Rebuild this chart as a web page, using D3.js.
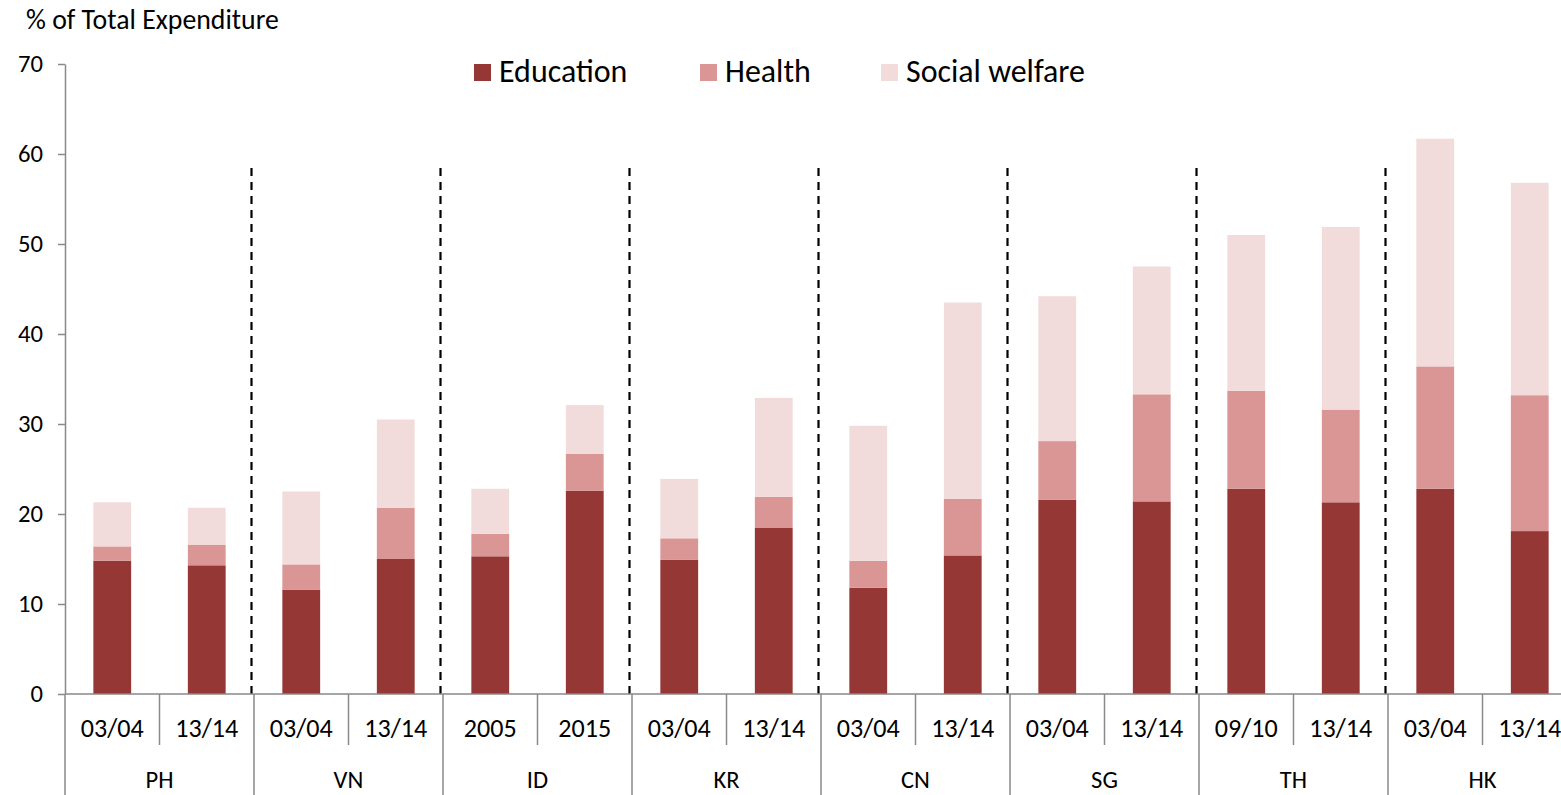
<!DOCTYPE html>
<html>
<head>
<meta charset="utf-8">
<script src="https://cdn.jsdelivr.net/npm/d3@7"></script>
<style>
  html, body { margin: 0; padding: 0; background: #fff; }
  svg { display: block; }
  text { font-family: Carlito, Calibri, "Open Sans", sans-serif; fill: #000; }
</style>
</head>
<body>
<svg id="chart" width="1561" height="795"></svg>
<script>
// ---- data ----
const countries = ["PH", "VN", "ID", "KR", "CN", "SG", "TH", "HK"];
const periodLabels = ["03/04", "13/14", "03/04", "13/14", "2005", "2015", "03/04", "13/14",
                      "03/04", "13/14", "03/04", "13/14", "09/10", "13/14", "03/04", "13/14"];
const education     = [14.8, 14.3, 11.6, 15.0, 15.3, 22.6, 14.9, 18.5, 11.8, 15.4, 21.6, 21.4, 22.8, 21.3, 22.8, 18.1];
const health        = [1.6,  2.3,  2.8,  5.7,  2.5,  4.1,  2.4,  3.4,  3.0,  6.3,  6.5, 11.9, 10.9, 10.3, 13.6, 15.1];
const socialWelfare = [4.9,  4.1,  8.1,  9.8,  5.0,  5.4,  6.6, 11.0, 15.0, 21.8, 16.1, 14.2, 17.3, 20.3, 25.3, 23.6];
const seriesNames = ["Education", "Health", "Social welfare"];
const yTicks = [0, 10, 20, 30, 40, 50, 60, 70];
const yTitle = "% of Total Expenditure";
const separatorTop = 58.8;

(function () {
// ---- style ----
const colors = ["#953735", "#D99694", "#F2DCDB"];
const axisColor = "#898989";
const FONT = 'Carlito, Calibri, "Open Sans", sans-serif';

const svg = d3.select("#chart");
const mLeft = 65, mRight = 1577, mTop = 64, mBottom = 694;
const nBars = periodLabels.length;

// scale a text selection's font size so a sample string reaches a target width
function fitSize(sample, targetW, base) {
  const t = svg.append("text").attr("font-size", base).style("font-family", FONT).text(sample);
  const w = t.node().getComputedTextLength();
  t.remove();
  return w > 0 ? base * targetW / w : base;
}
const tickSize = fitSize("70", 25, 20);
const periodSize = fitSize("03/04", 63, 20);
const countrySize = fitSize("PH", 28, 20);
const titleSize = fitSize(yTitle, 253, 20);
const legendSize = fitSize("Social welfare", 179, 20);

const x = d3.scaleBand().domain(d3.range(nBars)).range([mLeft, mRight])
  .paddingInner(0.6).paddingOuter(0.3);
const slot = d3.scaleLinear().domain([0, nBars]).range([mLeft, mRight]);
const y = d3.scaleLinear().domain([0, 70]).range([mBottom, mTop]);

// stack
const rows = d3.range(nBars).map(i => ({ i, Education: education[i], Health: health[i], "Social welfare": socialWelfare[i] }));
const stacked = d3.stack().keys(seriesNames)(rows);

// separators (dashed)
const sepIdx = d3.range(1, countries.length);
svg.append("g").selectAll("line").data(sepIdx).join("line")
  .attr("x1", d => slot(d * 2) - 2.5).attr("x2", d => slot(d * 2) - 2.5)
  .attr("y1", y(0)).attr("y2", y(separatorTop))
  .attr("stroke", "#000").attr("stroke-width", 2.2)
  .attr("stroke-dasharray", "8,6");

// bars
svg.append("g").selectAll("g").data(stacked).join("g")
  .attr("fill", (d, k) => colors[k])
  .selectAll("rect").data(d => d).join("rect")
  .attr("x", d => x(d.data.i))
  .attr("width", x.bandwidth())
  .attr("y", d => y(d[1]))
  .attr("height", d => y(d[0]) - y(d[1]));

// y axis
const yAxis = svg.append("g").attr("transform", `translate(${mLeft},0)`)
  .call(d3.axisLeft(y).tickValues(yTicks).tickSize(7).tickSizeOuter(0).tickPadding(15));
yAxis.selectAll("path, line").attr("stroke", axisColor).attr("stroke-width", 1.5);
yAxis.selectAll("text").attr("font-size", tickSize).attr("fill", "#000")
  .style("font-family", FONT);

// x axis baseline
svg.append("line").attr("x1", mLeft).attr("x2", mRight).attr("y1", y(0)).attr("y2", y(0))
  .attr("stroke", axisColor).attr("stroke-width", 1.5);

// x axis ticks (inner and group boundaries)
svg.append("g").selectAll("line").data(d3.range(0, nBars + 1)).join("line")
  .attr("x1", d => slot(d)).attr("x2", d => slot(d))
  .attr("y1", y(0)).attr("y2", d => d % 2 === 0 ? 795 : 745)
  .attr("stroke", axisColor).attr("stroke-width", 1.5);

// period labels
svg.append("g").selectAll("text").data(periodLabels).join("text")
  .attr("x", (d, i) => x(i) + x.bandwidth() / 2)
  .attr("y", 737)
  .attr("text-anchor", "middle")
  .attr("font-size", periodSize)
  .text(d => d);

// country labels
svg.append("g").selectAll("text").data(countries).join("text")
  .attr("x", (d, i) => (slot(i * 2) + slot(i * 2 + 2)) / 2)
  .attr("y", 788)
  .attr("text-anchor", "middle")
  .attr("font-size", countrySize)
  .text(d => d);

// y title
svg.append("text").attr("x", 26).attr("y", 29).attr("font-size", titleSize).text(yTitle);

// legend
const legendX = [474, 700, 881];
const lg = svg.append("g").selectAll("g").data(seriesNames).join("g")
  .attr("transform", (d, i) => `translate(${legendX[i]},64)`);
lg.append("rect").attr("width", 17).attr("height", 17).attr("fill", (d, i) => colors[i]);
lg.append("text").attr("x", 25).attr("y", 17.5).attr("font-size", legendSize).text(d => d);
})();
</script>
</body>
</html>
